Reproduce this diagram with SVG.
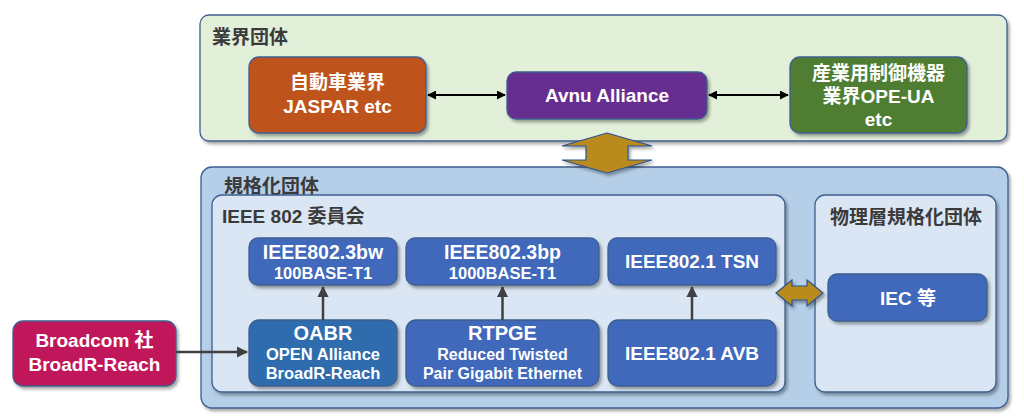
<svg xmlns="http://www.w3.org/2000/svg" width="1024" height="417" viewBox="0 0 1024 417">
<defs>
<filter id="sh" x="-10%" y="-10%" width="125%" height="130%">
<feDropShadow dx="2" dy="2.5" stdDeviation="1.8" flood-color="#000" flood-opacity="0.35"/>
</filter>
<marker id="ah" viewBox="0 0 10 10" refX="9" refY="5" markerWidth="4.5" markerHeight="4.5" orient="auto-start-reverse">
<path d="M0,0 L10,5 L0,10 Z" fill="#404040"/>
</marker>
<marker id="ahk" viewBox="0 0 10 10" refX="9" refY="5" markerWidth="4.5" markerHeight="4.5" orient="auto-start-reverse">
<path d="M0,0 L10,5 L0,10 Z" fill="#000"/>
</marker>
</defs>
<style>
text{font-family:"Liberation Sans","Noto Sans CJK JP",sans-serif;font-weight:bold}
.w{fill:#fff;text-anchor:middle}
.h{fill:#3a3a3a;font-size:19px}
.cont{stroke:#3e5f8f;stroke-width:1.3}
.node{stroke:#3e5f8f;stroke-width:1.3;filter:url(#sh)}
.blue{fill:#4068bb}
.conn{stroke:#404040;stroke-width:2.5;fill:none}
.connk{stroke:#000;stroke-width:2;fill:none}
.barrow{fill:#b98a1e;stroke:#2f528f;stroke-width:1.2;filter:url(#sh)}
</style>

<g id="industry-groups">
<rect class="cont" x="200" y="15" width="807" height="126" rx="9" fill="#e2efd9" filter="url(#sh)"/>
<text class="h" x="212" y="44">業界団体</text>
</g>

<g id="standards-groups">
<rect class="cont" x="201" y="167" width="807" height="241" rx="11" fill="#b5cfe8" filter="url(#sh)"/>
<text class="h" x="224" y="193">規格化団体</text>
</g>

<g id="ieee802">
<rect class="cont" x="212" y="195" width="573" height="197" rx="10" fill="#dae6f3" filter="url(#sh)"/>
<text class="h" x="222" y="223">IEEE 802 委員会</text>
</g>

<g id="phy-groups">
<rect class="cont" x="815" y="195" width="181" height="197" rx="10" fill="#dae6f3" filter="url(#sh)"/>
<text class="h" x="906" y="224" text-anchor="middle">物理層規格化団体</text>
</g>

<g id="auto-industry">
<rect class="node" x="249" y="57" width="177" height="76" rx="10" fill="#bf531d"/>
<text class="w" x="337.5" y="89" font-size="19">自動車業界</text>
<text class="w" x="337.5" y="113" font-size="19">JASPAR etc</text>
</g>

<g id="avnu">
<rect class="node" x="507" y="72" width="200" height="47" rx="9" fill="#652d90"/>
<text class="w" x="607" y="102" font-size="19">Avnu Alliance</text>
</g>

<g id="industrial">
<rect class="node" x="790" y="57" width="177" height="76" rx="10" fill="#507e31"/>
<text class="w" x="878.5" y="80" font-size="19">産業用制御機器</text>
<text class="w" x="878.5" y="103" font-size="19">業界OPE-UA</text>
<text class="w" x="878.5" y="126" font-size="19">etc</text>
</g>

<g id="ieee8023bw">
<rect class="node blue" x="249" y="238" width="148" height="47" rx="9"/>
<text class="w" x="323" y="259" font-size="19.5">IEEE802.3bw</text>
<text class="w" x="323" y="278.5" font-size="16.5">100BASE-T1</text>
</g>

<g id="ieee8023bp">
<rect class="node blue" x="406" y="238" width="193" height="47" rx="9"/>
<text class="w" x="502.5" y="259" font-size="19.5">IEEE802.3bp</text>
<text class="w" x="502.5" y="278.5" font-size="16.5">1000BASE-T1</text>
</g>

<g id="tsn">
<rect class="node blue" x="608" y="238" width="168" height="47" rx="9"/>
<text class="w" x="692" y="268" font-size="19">IEEE802.1 TSN</text>
</g>

<g id="oabr">
<rect class="node" x="249" y="320" width="148" height="66" rx="10" fill="#2e6cae"/>
<text class="w" x="323" y="340" font-size="20">OABR</text>
<text class="w" x="323" y="360" font-size="16.5">OPEN Alliance</text>
<text class="w" x="323" y="379" font-size="16.5">BroadR-Reach</text>
</g>

<g id="rtpge">
<rect class="node blue" x="406" y="320" width="193" height="66" rx="10"/>
<text class="w" x="502.5" y="340" font-size="20">RTPGE</text>
<text class="w" x="502.5" y="360" font-size="16">Reduced Twisted</text>
<text class="w" x="502.5" y="379" font-size="16">Pair Gigabit Ethernet</text>
</g>

<g id="avb">
<rect class="node blue" x="608" y="320" width="168" height="66" rx="10"/>
<text class="w" x="692" y="360" font-size="19">IEEE802.1 AVB</text>
</g>

<g id="iec">
<rect class="node blue" x="828" y="274" width="159" height="47" rx="9"/>
<text class="w" x="908" y="305" font-size="19">IEC 等</text>
</g>

<g id="broadcom">
<rect class="node" x="13" y="321" width="163" height="65" rx="10" fill="#c0185a"/>
<text class="w" x="94.5" y="347" font-size="19">Broadcom 社</text>
<text class="w" x="94.5" y="371" font-size="19">BroadR-Reach</text>
</g>

<g id="connectors">
<line class="connk" x1="428" y1="95" x2="505" y2="95" marker-start="url(#ahk)" marker-end="url(#ahk)"/>
<line class="connk" x1="709" y1="95" x2="788" y2="95" marker-start="url(#ahk)" marker-end="url(#ahk)"/>
<line class="conn" x1="323" y1="320" x2="323" y2="287" marker-end="url(#ah)"/>
<line class="conn" x1="502.5" y1="320" x2="502.5" y2="287" marker-end="url(#ah)"/>
<line class="conn" x1="692" y1="320" x2="692" y2="287" marker-end="url(#ah)"/>
<line class="conn" x1="176" y1="352" x2="247" y2="352" marker-end="url(#ah)"/>
<path class="barrow" d="M607,133 L652,146 L628,146 L628,160 L652,160 L607,173 L562,160 L586,160 L586,146 L562,146 Z"/>
<path class="barrow" d="M776,293 L792,280 L792,286 L807,286 L807,280 L823,293 L807,306 L807,300 L792,300 L792,306 Z"/>
</g>
</svg>
